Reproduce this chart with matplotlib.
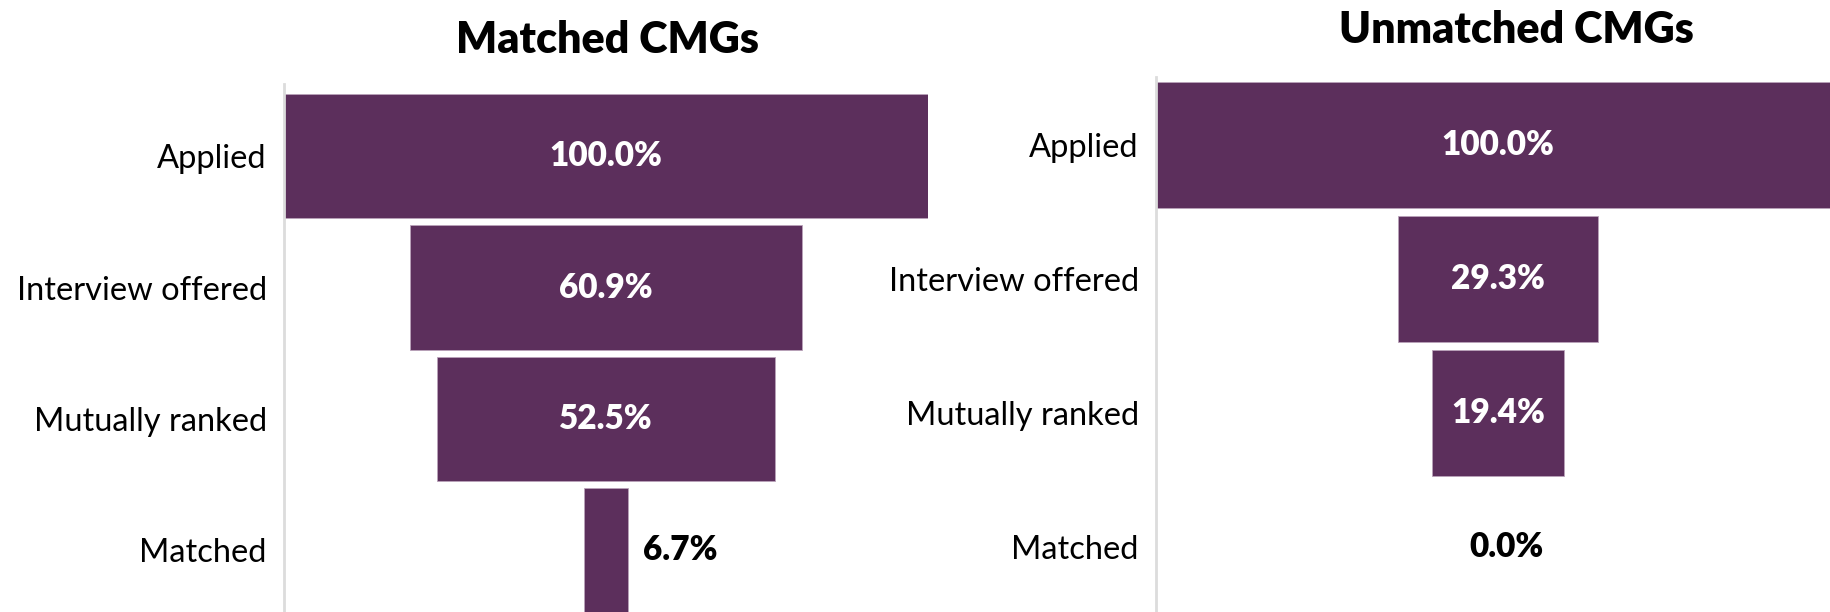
import matplotlib
matplotlib.use("Agg")
import matplotlib.pyplot as plt

plt.rcParams['font.family'] = ['Lato', 'DejaVu Sans']

stages = ["Applied", "Interview offered", "Mutually ranked", "Matched"]
matched_pct = [100.0, 60.9, 52.5, 6.7]
unmatched_pct = [100.0, 29.3, 19.4, 0.0]

BAR = "#5c2f5c"
W, H = 1831, 612

fig = plt.figure(figsize=(W / 100, H / 100), dpi=100)


def px_axes(x0, x1, top, bottom=H):
    # axes box given in pixel coordinates measured from the top-left corner
    return fig.add_axes([x0 / W, 1 - bottom / H, (x1 - x0) / W, (bottom - top) / H])


def funnel(ax, values, ylim, height):
    y = list(range(len(values)))
    lefts = [(100 - v) / 2 for v in values]
    edge_lw = [0.6 if v > 0 else 0 for v in values]
    ax.barh(y, values, left=lefts, height=height, color=BAR,
            edgecolor="#b9a3b9", linewidth=edge_lw)
    ax.set_xlim(0, 100)
    ax.set_ylim(*ylim)
    ax.set_yticks(y)
    ax.set_yticklabels(stages, fontsize=23.5, color="black")
    ax.tick_params(axis="y", length=0, pad=12.5)
    ax.set_xticks([])
    for s in ["top", "right", "bottom"]:
        ax.spines[s].set_visible(False)
    ax.spines["left"].set_color("#dcdcdc")
    ax.spines["left"].set_linewidth(2)
    for yi, v, l in zip(y, values, lefts):
        txt = f"{v:.1f}%"
        if v >= 15:
            ax.text(50, yi, txt, ha="center", va="center", color="white",
                    fontsize=24, fontweight="heavy")
        elif v > 0:
            ax.annotate(txt, (l + v, yi), xytext=(11, 0), textcoords="offset points",
                        ha="left", va="center", color="black",
                        fontsize=24, fontweight="heavy")
        else:
            ax.annotate(txt, (50, yi), xytext=(6, 0), textcoords="offset points",
                        ha="center", va="center", color="black",
                        fontsize=24, fontweight="heavy")


ax1 = px_axes(284, 928, 84)
funnel(ax1, matched_pct, (3.47, -0.55), 0.947)

ax2 = px_axes(1156, 1840, 77)
funnel(ax2, unmatched_pct, (3.485, -0.507), 0.94)

fig.text(608 / W, 1 - 40 / H, "Matched CMGs", ha="center", va="center",
         fontsize=31, fontweight="heavy")
fig.text(1516 / W, 1 - 30 / H, "Unmatched CMGs", ha="center", va="center",
         fontsize=31, fontweight="heavy")

fig.savefig("out.png", dpi=100, facecolor="white")
